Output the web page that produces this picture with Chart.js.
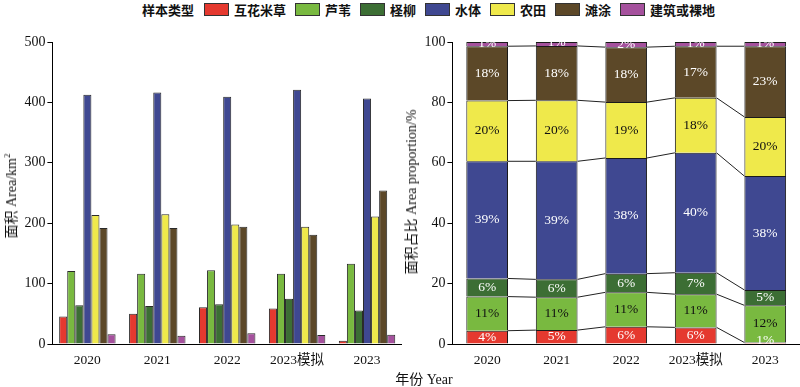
<!DOCTYPE html>
<html><head><meta charset="utf-8">
<script src="https://cdn.jsdelivr.net/npm/chart.js@4.4.0/dist/chart.umd.min.js"></script>
<style>
body{margin:0;width:800px;height:387px;background:#fff;position:relative;overflow:hidden;font-family:"Liberation Serif","Noto Sans CJK SC",serif;color:#111;}
#legend{position:absolute;left:142px;top:1px;height:16px;display:flex;align-items:center;font-size:13px;font-weight:bold;white-space:nowrap;font-family:"Noto Sans CJK SC",sans-serif;}
#legend .t{margin-right:10px;}
#legend .b{width:23px;height:11px;border:1px solid #333;margin-right:5px;}
#legend .l{margin-right:9px;}
canvas{position:absolute;top:0;}
.yt{position:absolute;white-space:nowrap;font-size:14px;transform:translate(-50%,-50%) rotate(-90deg);}
.xt{position:absolute;white-space:nowrap;font-size:14px;transform:translate(-50%,-50%);}
sup{font-size:9px;}
</style></head>
<body>
<div id="legend"></div>
<canvas id="c1" width="402" height="387" style="left:0"></canvas>
<canvas id="c2" width="400" height="387" style="left:400px"></canvas>
<div class="yt" style="left:10px;top:196px;">面积 Area/km<sup>2</sup></div>
<div class="yt" style="left:410px;top:192px;">面积占比 Area proportion/%</div>
<div class="xt" style="left:424px;top:378px;">年份 Year</div>
<script>
// ---- data ----
const categories = ['2020', '2021', '2022', '2023模拟', '2023'];
const seriesNames = ['互花米草', '芦苇', '柽柳', '水体', '农田', '滩涂', '建筑或裸地'];
const legendTitle = '样本类型';

// area (km²)
const areaSpartina = [45.6, 50, 61, 58.8, 5.5];
const areaReed = [121, 116.5, 122, 116.5, 133];
const areaTamarix = [64, 63, 66, 75, 55.5];
const areaWater = [412.5, 416.5, 409.5, 421, 406.5];
const areaFarmland = [213.5, 215, 198, 194, 211];
const areaTidalFlat = [192, 192, 194, 181, 254];
const areaBuilt = [16, 13.7, 17.6, 14.8, 15.4];

// area proportion (%)
const propSpartina = [4.4, 4.6, 5.7, 5.5, 0.5];
const propReed = [11.3, 10.9, 11.4, 11.0, 12.3];
const propTamarix = [6.0, 5.9, 6.2, 7.1, 5.1];
const propWater = [38.8, 39.1, 38.3, 39.7, 37.7];
const propFarmland = [20.1, 20.2, 18.5, 18.2, 19.6];
const propTidalFlat = [18.0, 18.0, 18.2, 17.1, 23.4];
const propBuilt = [1.4, 1.3, 1.7, 1.4, 1.4];

const areaSeries = [areaSpartina, areaReed, areaTamarix, areaWater, areaFarmland, areaTidalFlat, areaBuilt];
const propSeries = [propSpartina, propReed, propTamarix, propWater, propFarmland, propTidalFlat, propBuilt];

const colors = ['#e5392f', '#79b940', '#3c6e34', '#3f4891', '#efe94b', '#5c4828', '#a5519d'];
const labelColors = ['#fff', '#111', '#fff', '#fff', '#111', '#fff', '#fff'];

// ---- legend ----
const lg = document.getElementById('legend');
lg.innerHTML = '<span class="t">' + legendTitle + '</span>' +
  seriesNames.map((n, i) => '<span class="b" style="background:' + colors[i] + '"></span><span class="l">' + n + '</span>').join('');

const FONT = '"Liberation Serif","Noto Sans CJK SC",serif';
Chart.defaults.font.family = FONT;
Chart.defaults.color = '#111';

function yAxis(max, step) {
  return {
    min: 0, max: max,
    ticks: { stepSize: step, font: { size: 14 }, padding: 2, color: '#111' },
    grid: { drawOnChartArea: false, tickLength: 5, color: '#000' },
    border: { display: true, color: '#000', width: 1 },
    afterFit: s => { s.width = 52.4; }
  };
}
function xAxis(stacked) {
  return {
    stacked: stacked,
    ticks: { font: { size: 13.5 }, padding: 8, color: '#111', maxRotation: 0, autoSkip: false },
    grid: { display: false, drawTicks: false },
    border: { display: true, color: '#000', width: 1 },
    afterFit: s => { s.height = 43; }
  };
}

new Chart(document.getElementById('c1'), {
  type: 'bar',
  data: {
    labels: categories,
    datasets: areaSeries.map((d, i) => ({
      label: seriesNames[i], data: d, backgroundColor: colors[i],
      borderColor: '#2a2a2a', borderWidth: 1,
      categoryPercentage: 0.807, barPercentage: 1.0
    }))
  },
  options: {
    responsive: false, animation: false, devicePixelRatio: 1,
    layout: { padding: { top: 42, left: 0, right: 0, bottom: 0 } },
    plugins: { legend: { display: false }, tooltip: { enabled: false } },
    scales: { x: xAxis(false), y: yAxis(500, 100) }
  }
});

const connectors = {
  id: 'connectors',
  beforeDatasetsDraw(chart) {
    const ctx = chart.ctx;
    ctx.save();
    ctx.strokeStyle = '#222';
    ctx.lineWidth = 1;
    for (let d = 0; d < chart.data.datasets.length - 1; d++) {
      const meta = chart.getDatasetMeta(d);
      for (let i = 0; i < meta.data.length - 1; i++) {
        const a = meta.data[i], b = meta.data[i + 1];
        ctx.beginPath();
        ctx.moveTo(a.x + a.width / 2, a.y);
        ctx.lineTo(b.x - b.width / 2, b.y);
        ctx.stroke();
      }
    }
    ctx.restore();
  }
};
const segLabels = {
  id: 'segLabels',
  afterDatasetsDraw(chart) {
    const ctx = chart.ctx;
    ctx.save();
    ctx.font = '13.5px ' + FONT;
    ctx.textAlign = 'center';
    ctx.textBaseline = 'middle';
    chart.data.datasets.forEach((ds, d) => {
      const meta = chart.getDatasetMeta(d);
      meta.data.forEach((el, i) => {
        ctx.fillStyle = labelColors[d];
        const cy = Math.min((el.y + el.base) / 2, el.base - 3);
        ctx.fillText(Math.round(ds.data[i]) + '%', el.x, cy);
      });
    });
    ctx.restore();
  }
};

new Chart(document.getElementById('c2'), {
  type: 'bar',
  data: {
    labels: categories,
    datasets: propSeries.map((d, i) => ({
      label: seriesNames[i], data: d, backgroundColor: colors[i],
      borderColor: '#1a1a1a', borderWidth: 1,
      categoryPercentage: 1.0, barPercentage: 0.6
    }))
  },
  options: {
    responsive: false, animation: false, devicePixelRatio: 1,
    layout: { padding: { top: 42, left: 0, right: 0, bottom: 0 } },
    plugins: { legend: { display: false }, tooltip: { enabled: false } },
    scales: { x: xAxis(true), y: Object.assign(yAxis(100, 20), { stacked: true }) }
  },
  plugins: [connectors, segLabels]
});
</script>
</body></html>
